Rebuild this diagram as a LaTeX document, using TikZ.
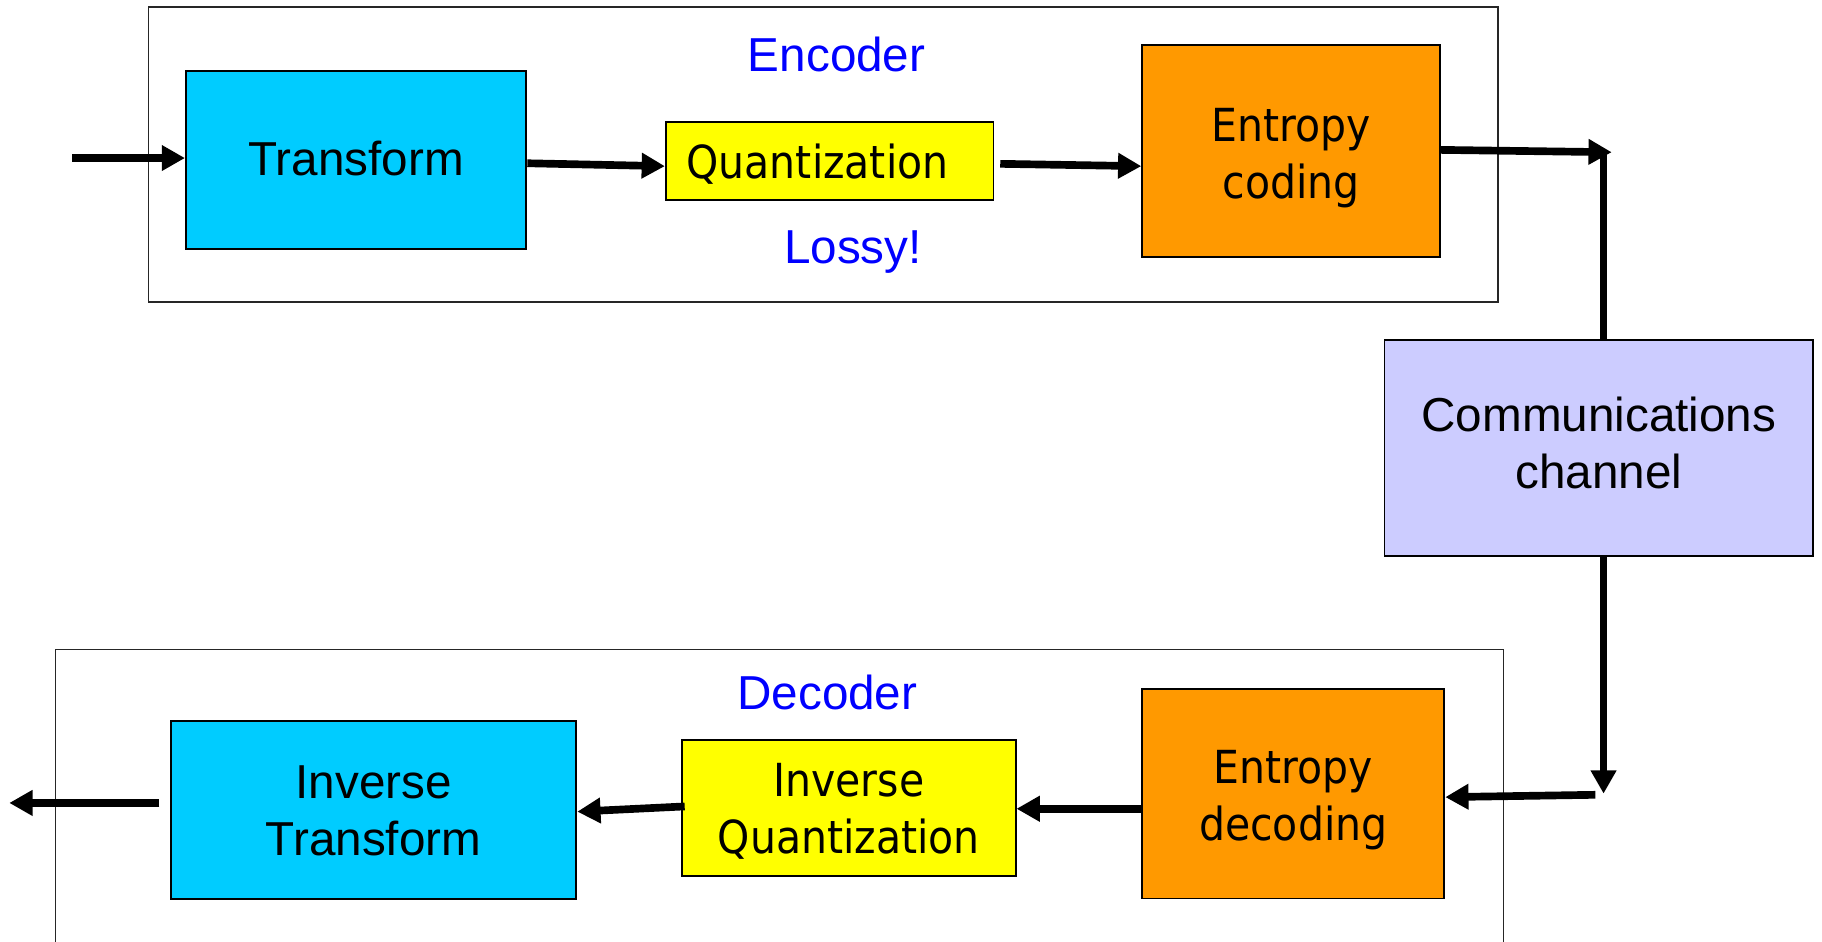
\documentclass[tikz,border=0pt]{standalone}
\usepackage{fontspec}
\setmainfont{Liberation Sans}
\newfontfamily\humanist{DejaVu Sans Condensed}
\usetikzlibrary{arrows.meta,calc}
\definecolor{tcyan}{HTML}{00CCFF}
\definecolor{qyellow}{HTML}{FFFF00}
\definecolor{eorange}{HTML}{FF9900}
\definecolor{chlav}{HTML}{CCCCFF}
\definecolor{lblblue}{HTML}{0000FF}
% block captions: first baseline placed #2 above the block centre
\newcommand\capone[2]{\raisebox{#2}[0pt][0pt]{#1}}
\newcommand\captwo[3]{\raisebox{#3}[0pt][0pt]{\begin{tabular}[t]{@{}c@{}}#1\\#2\end{tabular}}}
\begin{document}
\begin{tikzpicture}[x=1pt,y=1pt,
  txt/.style={font=\fontsize{20.5}{24.5}\selectfont},
  txtb/.style={font=\humanist\fontsize{19.6}{24.5}\selectfont},
  block/.style={draw=black, line width=0.8pt, inner sep=0pt},
  group/.style={draw=black!85, line width=0.6pt},
  lbl/.style={txt, text=lblblue, inner sep=0pt},
  flow/.style={line width=3.3pt, -{Triangle[length=10pt,width=10.5pt]}},
  wire/.style={line width=3.3pt}
]
\useasboundingbox (0,0) rectangle (784,405);

% encoder and decoder frames
\draw[group] (64,275) rectangle (644.5,402);
\draw[group] (24,-2) -- (24,125.5) -- (647,125.5) -- (647,-2);

% encoder blocks
\node[block, txt, fill=tcyan, minimum width=146.5pt, minimum height=76.5pt] (T) at (153.25,336.25) {\capone{Transform}{-6.8pt}};
\node[block, txtb, fill=qyellow, minimum width=141pt, minimum height=33.6pt] (Q) at (357,335.7) {\capone{Quantization\hspace*{10.4pt}}{-7.5pt}};
\node[block, txtb, fill=eorange, minimum width=128pt, minimum height=91pt] (E) at (555.5,340) {\captwo{Entropy}{coding}{3.9pt}};
\node[lbl] (enc) at (360,381.5) {Encoder};
\node[lbl] (lossy) at (367,296.5) {Lossy!};

% channel
\node[block, txt, fill=chlav, minimum width=184.5pt, minimum height=92.9pt] (C) at (688,212.1) {\captwo{Communications}{channel}{7.3pt}};

% decoder blocks
\node[block, txt, fill=tcyan, minimum width=174.5pt, minimum height=76.7pt] (IT) at (160.75,56.35) {\captwo{Inverse}{Transform}{5.1pt}};
\node[block, txtb, fill=qyellow, minimum width=143.5pt, minimum height=58.5pt] (IQ) at (365.25,57.25) {\captwo{Inverse}{Quantization}{4.9pt}};
\node[block, txtb, fill=eorange, minimum width=130pt, minimum height=90.3pt] (ED) at (556.5,63.55) {\captwo{Entropy}{decoding}{4.3pt}};
\node[lbl] (dec) at (356,107) {Decoder};

% free ends and corners of the signal path
\coordinate (in) at (31,337);
\coordinate (top) at (693.5,339.5);
\coordinate (topc) at (690,339.5);
\coordinate (bot) at (690,63.5);
\coordinate (botl) at (686.5,63);
\coordinate (out) at (4,59.5);

% encoder path
\draw[flow] (in) -- (T.west |- in);
\draw[flow] ($(T.east)+(0,-1.5)$) -- ($(Q.west)+(0,-2.2)$);
\draw[flow] ($(Q.east)+(2.5,-1.2)$) -- ($(E.west)+(0,-6.5)$);
\draw[flow] ($(E.east)+(0,0.5)$) -- (top);

% through the channel
\draw[wire] (topc) -- (C.north -| topc);
\draw[flow] (C.south -| bot) -- (bot);

% decoder path
\draw[flow] (botl) -- ($(ED.east)+(0,-1.55)$);
\draw[flow] ($(ED.west)+(0,-6.55)$) -- ($(IQ.east)+(0,-0.25)$);
\draw[flow] ($(IQ.west)+(1.5,0.75)$) -- ($(IT.east)+(0,-0.6)$);
\draw[flow] ($(IT.west)+(-4.5,3.15)$) -- (out);
\end{tikzpicture}
\end{document}
